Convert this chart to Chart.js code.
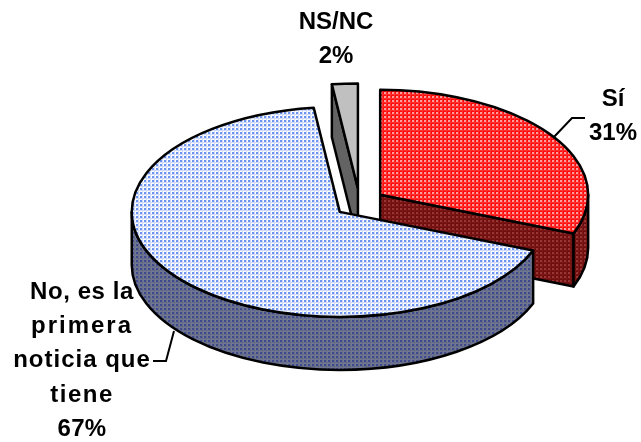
<!DOCTYPE html>
<html lang="es">
<head>
<meta charset="utf-8">
<title>Gráfico</title>
<style>html,body{margin:0;padding:0;background:#fff}canvas{display:block}</style>
<script src="https://cdn.jsdelivr.net/npm/chart.js@4/dist/chart.umd.min.js"></script>
</head>
<body>
<canvas id="c" width="641" height="442"></canvas>
<script>
const categories = ["Sí", "No, es la primera noticia que tiene", "NS/NC"];
const values = [31, 67, 2];
const percentLabels = ["31%", "67%", "2%"];
const labelLines = [["Sí"], ["No, es la", "primera", "noticia que", "tiene"], ["NS/NC"]];
const lineTracking = [[0, 0], [0.6, 2, 1, 1.5, 0.3], [0, 0]];
const labelCenters = [[613, 99], [82, 292], [336, 22]];
const leaders = [[[553,138],[572,118],[585,118]], [[174,331],[166,361],[153,361]], []];
const LINE_HEIGHT = 34.4;
const SQUASH = 0.505, OFFSET_SQUASH = 0.58, DEPTH = 53;

function tile(base, grid, dot) {
  const t = document.createElement('canvas');
  t.width = t.height = 4;
  const g = t.getContext('2d');
  g.fillStyle = base; g.fillRect(0,0,4,4);
  g.fillStyle = grid; g.fillRect(2,0,1,4); g.fillRect(0,2,4,1);
  g.fillStyle = dot; g.fillRect(0,0,2,2);
  return g.createPattern(t,'repeat');
}
const ctx0 = document.getElementById('c').getContext('2d');
const styles = [
  {top: tile('#ff0808','#ff3030','#ff9c9c'), side: tile('#6c0c0c','#7a1616','#983636')},
  {top: tile('#ffffff','#d0dcfb','#6f94f0'), side: tile('#737a90','#666d8c','#3f4a8c')},
  {top: '#c0c0c0', side: '#636363'}
];

const pie3d = {
  id: 'pie3d',
  beforeDatasetDraw(chart, args) {
    const ctx = chart.ctx;
    const arcs = chart.getDatasetMeta(args.index).data;
    ctx.save();
    ctx.lineWidth = 2.5; ctx.lineJoin = 'round'; ctx.strokeStyle = '#000';
    [2, 0, 1].forEach(i => {
      const el = arcs[i], s = el.startAngle, e = el.endAngle, off = el.options.offset;
      const mid = (s + e) / 2, rx = el.outerRadius, ry = rx * SQUASH;
      const cx = el.x + Math.cos(mid) * off, cy = el.y + Math.sin(mid) * off * OFFSET_SQUASH;
      const pt = a => [cx + Math.cos(a) * rx, cy + Math.sin(a) * ry];
      const face = a => {
        const p = pt(a);
        ctx.beginPath(); ctx.moveTo(cx, cy); ctx.lineTo(p[0], p[1]);
        ctx.lineTo(p[0], p[1] + DEPTH); ctx.lineTo(cx, cy + DEPTH); ctx.closePath();
        ctx.fillStyle = styles[i].side; ctx.fill(); ctx.stroke();
      };
      if (Math.cos(s) < -1e-6) face(s);
      if (Math.cos(e) > 1e-6) face(e);
      [[0, Math.PI], [2 * Math.PI, 3 * Math.PI]].forEach(w => {
        const a = Math.max(s, w[0]), b = Math.min(e, w[1]);
        if (a >= b) return;
        ctx.beginPath();
        ctx.ellipse(cx, cy, rx, ry, 0, a, b);
        ctx.ellipse(cx, cy + DEPTH, rx, ry, 0, b, a, true);
        ctx.closePath();
        ctx.fillStyle = styles[i].side; ctx.fill(); ctx.stroke();
      });
      ctx.beginPath(); ctx.moveTo(cx, cy);
      ctx.ellipse(cx, cy, rx, ry, 0, s, e);
      ctx.closePath();
      ctx.fillStyle = styles[i].top; ctx.fill(); ctx.stroke();
    });
    ctx.restore();
    return false;
  },
  afterDraw(chart) {
    const ctx = chart.ctx;
    ctx.save();
    ctx.lineWidth = 2; ctx.strokeStyle = '#000';
    leaders.forEach(l => {
      if (!l.length) return;
      ctx.beginPath();
      l.forEach((p, j) => j ? ctx.lineTo(p[0], p[1]) : ctx.moveTo(p[0], p[1]));
      ctx.stroke();
    });
    ctx.fillStyle = '#000';
    ctx.font = 'bold 24px "Liberation Sans", Arial, sans-serif';
    ctx.textAlign = 'center'; ctx.textBaseline = 'middle';
    labelLines.forEach((lines, i) => {
      const [x, y] = labelCenters[i];
      lines.concat(percentLabels[i]).forEach((t, j) => {
        ctx.letterSpacing = lineTracking[i][j] + 'px';
        ctx.fillText(t, x, y + j * LINE_HEIGHT);
      });
    });
    ctx.restore();
  }
};

new Chart(ctx0, {
  type: 'pie',
  data: { labels: categories, datasets: [{ data: values, offset: 25, borderWidth: 0, radius: 208 }] },
  options: {
    responsive: false, animation: false,
    layout: { padding: { left: 78, right: 0, top: 0, bottom: 36 } },
    plugins: { legend: { display: false }, tooltip: { enabled: false }, title: { display: false } }
  },
  plugins: [pie3d]
});
</script>
</body>
</html>
